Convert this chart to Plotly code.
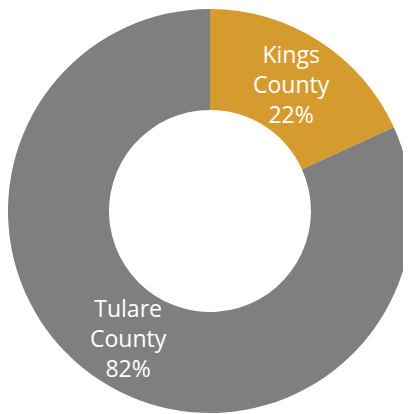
import math
import plotly.graph_objects as go

counties = ["Kings County", "Tulare County"]
shares = [18.2, 81.8]          # slice sizes as drawn
pct_labels = ["22%", "82%"]    # percentages printed on the chart
colors = ["#D69B2E", "#7F7F7F"]

hole = 0.5
texts = [c.replace(" ", "<br>") + "<br>" + p for c, p in zip(counties, pct_labels)]

fig = go.Figure(go.Pie(
    labels=counties,
    values=shares,
    textinfo="none",
    hole=hole,
    sort=False,
    direction="clockwise",
    rotation=0,
    marker=dict(colors=colors, line=dict(width=0)),
    showlegend=False,
    domain=dict(x=[0, 1], y=[0, 1]),
))

# place labels at the middle of each ring segment (angles derived from the data)
total = sum(shares)
r_mid = 0.5 * (1 + hole) / 2
cum = 0.0
for s, t in zip(shares, texts):
    mid = (cum + s / 2) / total * 2 * math.pi
    cum += s
    fig.add_annotation(
        x=0.5 + r_mid * math.sin(mid), y=0.5 + r_mid * math.cos(mid),
        xref="paper", yref="paper", text=t, showarrow=False,
        xanchor="center", yanchor="middle",
        font=dict(family="Open Sans", size=23, color="white"),
    )

fig.update_layout(
    width=411, height=414,
    margin=dict(l=0, r=7, t=1, b=9),
    paper_bgcolor="white",
    plot_bgcolor="white",
)

fig.write_html("out.html")
